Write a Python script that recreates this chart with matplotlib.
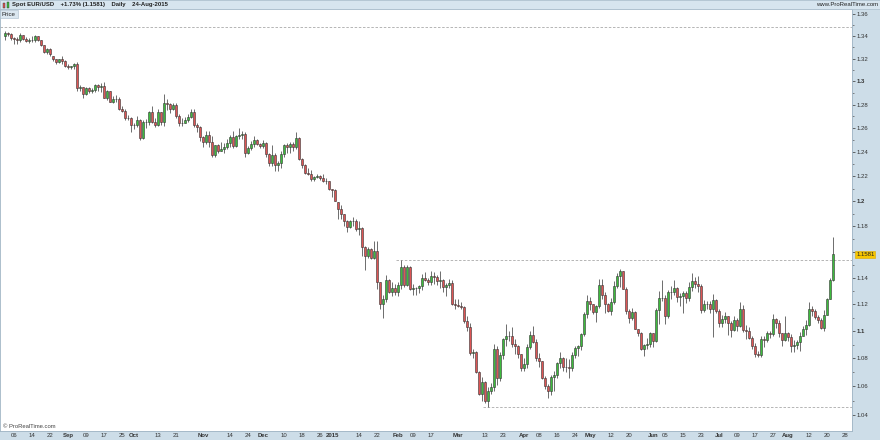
import numpy as np
import pandas as pd
import matplotlib
matplotlib.use("Agg")
import matplotlib.pyplot as plt
from matplotlib.patches import Rectangle

plt.rcParams["font.family"] = ["Liberation Sans", "DejaVu Sans"]

# daily candles: (open, high, low, close)
aug14 = [
    (1.3406, 1.3444, 1.3366, 1.3428), (1.3428, 1.3440, 1.3405, 1.3416), (1.3416, 1.3430, 1.3368, 1.3380),
    (1.3380, 1.3397, 1.3332, 1.3377), (1.3377, 1.3393, 1.3333, 1.3362), (1.3362, 1.3432, 1.3352, 1.3410),
    (1.3410, 1.3415, 1.3370, 1.3377), (1.3377, 1.3393, 1.3350, 1.3361), (1.3361, 1.3380, 1.3337, 1.3365),
    (1.3365, 1.3403, 1.3347, 1.3362), (1.3362, 1.3412, 1.3350, 1.3400), (1.3400, 1.3405, 1.3355, 1.3362),
    (1.3362, 1.3365, 1.3311, 1.3318), (1.3318, 1.3321, 1.3246, 1.3255), (1.3255, 1.3293, 1.3243, 1.3282),
    (1.3282, 1.3291, 1.3222, 1.3240), (1.3220, 1.3225, 1.3176, 1.3193), (1.3193, 1.3196, 1.3151, 1.3169),
    (1.3169, 1.3200, 1.3158, 1.3196), (1.3196, 1.3222, 1.3156, 1.3182), (1.3182, 1.3191, 1.3122, 1.3132),
]
sep14 = [
    (1.3132, 1.3150, 1.3110, 1.3130), (1.3130, 1.3138, 1.3108, 1.3131), (1.3131, 1.3160, 1.3110, 1.3150),
    (1.3150, 1.3170, 1.2920, 1.2944), (1.2944, 1.2965, 1.2920, 1.2950), (1.2950, 1.2955, 1.2860, 1.2893),
    (1.2893, 1.2948, 1.2880, 1.2943), (1.2943, 1.2955, 1.2904, 1.2918), (1.2918, 1.2945, 1.2900, 1.2925),
    (1.2925, 1.2980, 1.2910, 1.2965), (1.2965, 1.2977, 1.2920, 1.2952), (1.2952, 1.2985, 1.2910, 1.2962),
    (1.2962, 1.2995, 1.2858, 1.2861), (1.2861, 1.2925, 1.2838, 1.2919), (1.2919, 1.2921, 1.2823, 1.2826),
    (1.2826, 1.2870, 1.2815, 1.2849), (1.2849, 1.2886, 1.2825, 1.2847), (1.2847, 1.2862, 1.2752, 1.2763),
    (1.2763, 1.2789, 1.2735, 1.2747), (1.2747, 1.2765, 1.2667, 1.2683), (1.2683, 1.2715, 1.2670, 1.2687),
    (1.2687, 1.2692, 1.2571, 1.2628),
]
oct14 = [
    (1.2628, 1.2643, 1.2590, 1.2624), (1.2624, 1.2700, 1.2606, 1.2670), (1.2670, 1.2680, 1.2501, 1.2516),
    (1.2516, 1.2670, 1.2507, 1.2652), (1.2652, 1.2677, 1.2598, 1.2651), (1.2651, 1.2746, 1.2624, 1.2735),
    (1.2735, 1.2791, 1.2640, 1.2654), (1.2654, 1.2686, 1.2610, 1.2628), (1.2628, 1.2760, 1.2618, 1.2735),
    (1.2735, 1.2738, 1.2630, 1.2655), (1.2655, 1.2887, 1.2622, 1.2818), (1.2818, 1.2845, 1.2750, 1.2807),
    (1.2807, 1.2813, 1.2725, 1.2760), (1.2760, 1.2810, 1.2750, 1.2798), (1.2798, 1.2815, 1.2686, 1.2705),
    (1.2705, 1.2718, 1.2615, 1.2642), (1.2642, 1.2684, 1.2616, 1.2647), (1.2647, 1.2691, 1.2640, 1.2667),
    (1.2667, 1.2720, 1.2656, 1.2697), (1.2697, 1.2765, 1.2688, 1.2734), (1.2734, 1.2764, 1.2612, 1.2629),
    (1.2629, 1.2640, 1.2564, 1.2612), (1.2612, 1.2620, 1.2495, 1.2528),
]
nov14 = [
    (1.2528, 1.2534, 1.2443, 1.2483), (1.2483, 1.2577, 1.2465, 1.2546), (1.2546, 1.2572, 1.2439, 1.2487),
    (1.2487, 1.2532, 1.2359, 1.2377), (1.2377, 1.2460, 1.2358, 1.2457), (1.2457, 1.2470, 1.2395, 1.2410),
    (1.2410, 1.2480, 1.2405, 1.2424), (1.2424, 1.2477, 1.2392, 1.2438), (1.2438, 1.2508, 1.2425, 1.2476),
    (1.2476, 1.2544, 1.2443, 1.2526), (1.2526, 1.2576, 1.2432, 1.2450), (1.2450, 1.2545, 1.2443, 1.2535),
    (1.2535, 1.2600, 1.2512, 1.2542), (1.2542, 1.2575, 1.2508, 1.2547), (1.2547, 1.2570, 1.2358, 1.2390),
    (1.2390, 1.2448, 1.2382, 1.2437), (1.2437, 1.2490, 1.2420, 1.2469), (1.2469, 1.2532, 1.2443, 1.2504),
    (1.2504, 1.2510, 1.2455, 1.2466), (1.2466, 1.2473, 1.2435, 1.2453),
]
dec14 = [
    (1.2453, 1.2500, 1.2435, 1.2474), (1.2474, 1.2487, 1.2359, 1.2382), (1.2382, 1.2389, 1.2281, 1.2312),
    (1.2312, 1.2456, 1.2282, 1.2377), (1.2377, 1.2395, 1.2247, 1.2290), (1.2290, 1.2326, 1.2246, 1.2313),
    (1.2313, 1.2410, 1.2270, 1.2380), (1.2380, 1.2465, 1.2359, 1.2456), (1.2456, 1.2475, 1.2392, 1.2438),
    (1.2438, 1.2484, 1.2395, 1.2463), (1.2463, 1.2480, 1.2405, 1.2440), (1.2440, 1.2570, 1.2428, 1.2513),
    (1.2513, 1.2527, 1.2334, 1.2343), (1.2343, 1.2350, 1.2267, 1.2289), (1.2289, 1.2300, 1.2220, 1.2230),
    (1.2230, 1.2270, 1.2209, 1.2223), (1.2223, 1.2250, 1.2166, 1.2178), (1.2178, 1.2200, 1.2165, 1.2191),
    (1.2191, 1.2220, 1.2185, 1.2205), (1.2205, 1.2215, 1.2167, 1.2183), (1.2183, 1.2220, 1.2154, 1.2158),
    (1.2158, 1.2190, 1.2140, 1.2160), (1.2160, 1.2165, 1.2085, 1.2098),
]
jan15 = [
    (1.2098, 1.2100, 1.2030, 1.2090), (1.2090, 1.2095, 1.2000, 1.2002), (1.1990, 1.1990, 1.1860, 1.1933),
    (1.1933, 1.1970, 1.1860, 1.1893), (1.1893, 1.1900, 1.1805, 1.1839), (1.1839, 1.1850, 1.1754, 1.1794),
    (1.1794, 1.1849, 1.1782, 1.1842), (1.1842, 1.1870, 1.1798, 1.1839), (1.1839, 1.1860, 1.1760, 1.1774),
    (1.1774, 1.1837, 1.1729, 1.1787), (1.1787, 1.1795, 1.1567, 1.1633), (1.1633, 1.1643, 1.1460, 1.1564),
    (1.1564, 1.1640, 1.1550, 1.1620), (1.1620, 1.1625, 1.1540, 1.1550), (1.1550, 1.1680, 1.1540, 1.1605),
    (1.1605, 1.1680, 1.1316, 1.1365), (1.1365, 1.1370, 1.1160, 1.1204), (1.1204, 1.1270, 1.1098, 1.1236),
    (1.1236, 1.1423, 1.1215, 1.1382), (1.1382, 1.1387, 1.1280, 1.1290), (1.1290, 1.1367, 1.1262, 1.1319),
    (1.1319, 1.1352, 1.1270, 1.1290),
]
feb15 = [
    (1.1290, 1.1365, 1.1262, 1.1341), (1.1341, 1.1534, 1.1315, 1.1478), (1.1478, 1.1496, 1.1332, 1.1345),
    (1.1345, 1.1498, 1.1338, 1.1478), (1.1478, 1.1487, 1.1310, 1.1315), (1.1315, 1.1350, 1.1270, 1.1322),
    (1.1322, 1.1330, 1.1270, 1.1321), (1.1321, 1.1345, 1.1280, 1.1333), (1.1333, 1.1430, 1.1310, 1.1396),
    (1.1396, 1.1447, 1.1375, 1.1386), (1.1386, 1.1400, 1.1345, 1.1369), (1.1369, 1.1450, 1.1342, 1.1409),
    (1.1409, 1.1440, 1.1355, 1.1405), (1.1405, 1.1420, 1.1345, 1.1373), (1.1373, 1.1450, 1.1318, 1.1382),
    (1.1382, 1.1390, 1.1288, 1.1332), (1.1332, 1.1360, 1.1261, 1.1343), (1.1343, 1.1387, 1.1324, 1.1359),
    (1.1359, 1.1383, 1.1193, 1.1198), (1.1198, 1.1242, 1.1160, 1.1196),
]
mar15 = [
    (1.1196, 1.1240, 1.1176, 1.1184), (1.1184, 1.1216, 1.1160, 1.1175), (1.1175, 1.1188, 1.1060, 1.1073),
    (1.1073, 1.1114, 1.1000, 1.1030), (1.1030, 1.1060, 1.0822, 1.0842), (1.0842, 1.0867, 1.0800, 1.0848),
    (1.0848, 1.0852, 1.0694, 1.0700), (1.0700, 1.0710, 1.0537, 1.0547), (1.0547, 1.0666, 1.0494, 1.0631),
    (1.0631, 1.0640, 1.0485, 1.0495), (1.0495, 1.0592, 1.0458, 1.0565), (1.0565, 1.0623, 1.0544, 1.0597),
    (1.0597, 1.0906, 1.0570, 1.0870), (1.0870, 1.0890, 1.0612, 1.0656), (1.0656, 1.0845, 1.0640, 1.0822),
    (1.0822, 1.0950, 1.0795, 1.0941), (1.0941, 1.1051, 1.0890, 1.0964), (1.0964, 1.1000, 1.0930, 1.0965),
    (1.0965, 1.1028, 1.0885, 1.0905), (1.0905, 1.0941, 1.0830, 1.0887), (1.0887, 1.0894, 1.0800, 1.0829),
    (1.0829, 1.0832, 1.0712, 1.0731),
]
apr15 = [
    (1.0731, 1.0803, 1.0713, 1.0763), (1.0763, 1.0908, 1.0730, 1.0885), (1.0885, 1.1000, 1.0865, 1.0969),
    (1.0969, 1.1035, 1.0910, 1.0922), (1.0922, 1.0939, 1.0785, 1.0804), (1.0804, 1.0840, 1.0740, 1.0780),
    (1.0780, 1.0785, 1.0650, 1.0660), (1.0660, 1.0674, 1.0580, 1.0600), (1.0600, 1.0620, 1.0520, 1.0570),
    (1.0570, 1.0684, 1.0541, 1.0664), (1.0664, 1.0709, 1.0570, 1.0680), (1.0680, 1.0777, 1.0660, 1.0767),
    (1.0767, 1.0849, 1.0730, 1.0806), (1.0806, 1.0810, 1.0713, 1.0740), (1.0740, 1.0800, 1.0700, 1.0736),
    (1.0736, 1.0795, 1.0662, 1.0728), (1.0728, 1.0848, 1.0707, 1.0828), (1.0828, 1.0888, 1.0801, 1.0875),
    (1.0875, 1.0900, 1.0817, 1.0888), (1.0888, 1.0987, 1.0863, 1.0975), (1.0975, 1.1141, 1.0960, 1.1127),
    (1.1127, 1.1268, 1.1095, 1.1221),
]
may15 = [
    (1.1221, 1.1250, 1.1155, 1.1198), (1.1198, 1.1202, 1.1124, 1.1144), (1.1144, 1.1191, 1.1064, 1.1188),
    (1.1188, 1.1392, 1.1171, 1.1347), (1.1347, 1.1391, 1.1236, 1.1265), (1.1265, 1.1288, 1.1137, 1.1201),
    (1.1201, 1.1205, 1.1140, 1.1150), (1.1150, 1.1246, 1.1120, 1.1214), (1.1214, 1.1373, 1.1201, 1.1338),
    (1.1338, 1.1435, 1.1320, 1.1410), (1.1410, 1.1467, 1.1330, 1.1448), (1.1448, 1.1452, 1.1312, 1.1316),
    (1.1316, 1.1330, 1.1128, 1.1145), (1.1145, 1.1164, 1.1062, 1.1093), (1.1093, 1.1173, 1.1082, 1.1140),
    (1.1140, 1.1148, 1.1012, 1.1016), (1.1016, 1.1018, 1.0962, 1.0984), (1.0984, 1.0995, 1.0863, 1.0871),
    (1.0871, 1.0905, 1.0819, 1.0895), (1.0895, 1.0946, 1.0872, 1.0904), (1.0904, 1.0991, 1.0881, 1.0986),
]
jun15 = [
    (1.0986, 1.0988, 1.0886, 1.0928), (1.0928, 1.1168, 1.0920, 1.1154), (1.1154, 1.1299, 1.1051, 1.1248),
    (1.1248, 1.1380, 1.1222, 1.1243), (1.1243, 1.1265, 1.1050, 1.1114), (1.1114, 1.1307, 1.1100, 1.1290),
    (1.1290, 1.1334, 1.1235, 1.1291), (1.1291, 1.1386, 1.1265, 1.1319), (1.1319, 1.1332, 1.1217, 1.1253),
    (1.1253, 1.1285, 1.1188, 1.1263), (1.1263, 1.1297, 1.1135, 1.1281), (1.1281, 1.1296, 1.1206, 1.1243),
    (1.1243, 1.1365, 1.1226, 1.1332), (1.1332, 1.1436, 1.1300, 1.1372), (1.1372, 1.1403, 1.1325, 1.1348),
    (1.1348, 1.1410, 1.1290, 1.1340), (1.1340, 1.1350, 1.1135, 1.1159), (1.1159, 1.1229, 1.1141, 1.1202),
    (1.1202, 1.1225, 1.1167, 1.1204), (1.1204, 1.1222, 1.1135, 1.1166), (1.1166, 1.1278, 1.0955, 1.1234),
    (1.1234, 1.1240, 1.1133, 1.1148),
]
jul15 = [
    (1.1148, 1.1160, 1.1033, 1.1056), (1.1056, 1.1120, 1.1028, 1.1090), (1.1090, 1.1140, 1.1060, 1.1110),
    (1.1110, 1.1114, 1.0969, 1.1057), (1.1057, 1.1075, 1.0955, 1.1009), (1.1009, 1.1108, 1.1000, 1.1084),
    (1.1084, 1.1096, 1.1000, 1.1037), (1.1037, 1.1216, 1.1030, 1.1164), (1.1164, 1.1190, 1.0990, 1.1004),
    (1.1004, 1.1048, 1.0940, 1.1003), (1.1003, 1.1030, 1.0940, 1.0951), (1.0951, 1.0967, 1.0865, 1.0887),
    (1.0887, 1.0911, 1.0807, 1.0829), (1.0829, 1.0855, 1.0808, 1.0823), (1.0823, 1.0960, 1.0813, 1.0940),
    (1.0940, 1.0960, 1.0885, 1.0932), (1.0932, 1.0997, 1.0920, 1.0985), (1.0985, 1.0998, 1.0951, 1.0981),
    (1.0981, 1.1128, 1.0966, 1.1088), (1.1088, 1.1093, 1.1023, 1.1062), (1.1062, 1.1078, 1.0959, 1.0986),
    (1.0986, 1.0988, 1.0887, 1.0932), (1.0932, 1.1114, 1.0928, 1.0985),
]
aug15 = [
    (1.0985, 1.0990, 1.0925, 1.0954), (1.0954, 1.0975, 1.0847, 1.0887), (1.0887, 1.0935, 1.0848, 1.0901),
    (1.0901, 1.0933, 1.0872, 1.0921), (1.0921, 1.0996, 1.0855, 1.0967), (1.0967, 1.1035, 1.0962, 1.1018),
    (1.1018, 1.1083, 1.0970, 1.1047), (1.1047, 1.1214, 1.1040, 1.1161), (1.1161, 1.1188, 1.1109, 1.1147),
    (1.1147, 1.1166, 1.1087, 1.1106), (1.1106, 1.1115, 1.1057, 1.1080), (1.1080, 1.1093, 1.1016, 1.1025),
    (1.1025, 1.1158, 1.1000, 1.1120), (1.1120, 1.1247, 1.1115, 1.1242), (1.1242, 1.1395, 1.1238, 1.1386),
    (1.1386, 1.1714, 1.1375, 1.1581),
]

first_day = "2014-08-01"
last_day = "2015-08-24"

# 수평선 (level, start date)
top_line = (1.3483, "2014-08-01")
res_line = (1.1534, "2015-02-03")
sup_line = (1.0458, "2015-03-16")
last_price = 1.1581

tick_dates = ["2014-08-06", "2014-08-14", "2014-08-22", "2014-09-01", "2014-09-09", "2014-09-17",
              "2014-09-25", "2014-10-01", "2014-10-13", "2014-10-21", "2014-11-03", "2014-11-14",
              "2014-11-24", "2014-12-01", "2014-12-10", "2014-12-18", "2014-12-26", "2015-01-01",
              "2015-01-14", "2015-01-22", "2015-02-02", "2015-02-09", "2015-02-17", "2015-03-02",
              "2015-03-13", "2015-03-23", "2015-04-01", "2015-04-08", "2015-04-16", "2015-04-24",
              "2015-05-01", "2015-05-12", "2015-05-20", "2015-06-01", "2015-06-05", "2015-06-15",
              "2015-06-23", "2015-07-01", "2015-07-09", "2015-07-17", "2015-07-27", "2015-08-03",
              "2015-08-12", "2015-08-20", "2015-08-28"]
tick_labels = ["06", "14", "22", "Sep", "09", "17", "25", "Oct", "13", "21", "Nov", "14", "24", "Dec",
               "10", "18", "26", "2015", "14", "22", "Feb", "09", "17", "Mar", "13", "23", "Apr", "08",
               "16", "24", "May", "12", "20", "Jun", "05", "15", "23", "Jul", "09", "17", "27", "Aug",
               "12", "20", "28"]
month_labels = ["Sep", "Oct", "Nov", "Dec", "2015", "Feb", "Mar", "Apr", "May", "Jun", "Jul", "Aug"]

# 1.16 은 현재가 박스에 가려져 있음
price_ticks = [1.04, 1.06, 1.08, 1.10, 1.12, 1.14, 1.16, 1.18, 1.20, 1.22, 1.24, 1.26, 1.28, 1.30,
               1.32, 1.34, 1.36]
price_labels = ["1.04", "1.06", "1.08", "1.1", "1.12", "1.14", "", "1.18", "1.2", "1.22", "1.24",
                "1.26", "1.28", "1.3", "1.32", "1.34", "1.36"]
minor_ticks = [1.05, 1.07, 1.09, 1.11, 1.13, 1.15, 1.17, 1.19, 1.21, 1.23, 1.25, 1.27, 1.29, 1.31,
               1.33, 1.35]

up_color = "#3dbb3d"
down_color = "#dd5555"
strip_color = "#cddde8"

df = pd.DataFrame(aug14 + sep14 + oct14 + nov14 + dec14 + jan15 + feb15 + mar15 + apr15
                  + may15 + jun15 + jul15 + aug15, columns=["Open", "High", "Low", "Close"])
dates = pd.bdate_range(first_day, "2015-09-30")
df.index = dates[:len(df)]
pos = {d: i for i, d in enumerate(dates)}

fig = plt.figure(figsize=(8.8, 4.4), dpi=100)
fig.patch.set_facecolor(strip_color)
ax = fig.add_axes([0, 9 / 440, 852 / 880, 422 / 440])
ax.set_facecolor("white")

x = np.arange(len(df))
up = df["Close"] >= df["Open"]
ax.vlines(x, df["Low"], df["High"], color="#555555", linewidth=0.6, zorder=2)
colors = np.where(up, up_color, down_color)
ax.bar(x, df["Close"] - df["Open"], bottom=df["Open"], width=0.72, color=colors,
       edgecolor="#333333", linewidth=0.4, zorder=3)

# 점선 레벨
for level, start in [top_line, res_line, sup_line]:
    ax.hlines(level, pos[pd.Timestamp(start)] - 1.7, 290, colors="#aaaaaa", linestyles=(0, (3, 2)),
              linewidth=0.6, zorder=1)

ax.set_yscale("log")
ax.set_ylim(1.0288, 1.3646)
ax.set_xlim(-1.67, 282.3)

ax.yaxis.tick_right()
ax.set_yticks(price_ticks)
ax.set_yticklabels(price_labels)
ax.set_yticks(minor_ticks, minor=True)
ax.yaxis.set_minor_formatter(plt.NullFormatter())
ax.tick_params(axis="y", which="major", length=2, width=0.5, pad=1, labelsize=4.3,
               colors="#333333")
ax.tick_params(axis="y", which="minor", length=1.5, width=0.5, colors="#555555")
for lab in ax.get_yticklabels():
    if lab.get_text() in ("1.1", "1.2", "1.3"):
        lab.set_fontweight("bold")

ax.set_xticks([pos[pd.Timestamp(d)] for d in tick_dates])
ax.set_xticklabels(tick_labels)
ax.tick_params(axis="x", length=0, pad=1.6, labelsize=4.3, colors="#333333")
for lab in ax.get_xticklabels():
    if lab.get_text() in month_labels:
        lab.set_fontweight("bold")

for s in ax.spines.values():
    s.set_color("#9fb4c4")
    s.set_linewidth(0.6)

# 현재가 박스
ax.annotate("%.4f" % last_price, xy=(1.0, last_price), xycoords=("axes fraction", "data"),
            xytext=(3, 0), textcoords="offset points", ha="left", va="center", fontsize=4.3,
            color="#222222", bbox=dict(boxstyle="square,pad=0.15", fc="#f7c600", ec="#d9a800", lw=0.4),
            zorder=5, annotation_clip=False)

ax.text(0.003, 0.004, "© ProRealTime.com", transform=ax.transAxes, fontsize=4.2, color="#444444",
        ha="left", va="bottom")

# 상단 헤더
fig.patches.append(Rectangle((0, 1 - 9 / 440), 1, 9 / 440, transform=fig.transFigure,
                             fc="#d7e5ef", ec="#a9bccb", lw=0.5, zorder=0))
fig.patches.append(Rectangle((3 / 880, 1 - 8 / 440), 2 / 880, 5 / 440, transform=fig.transFigure,
                             fc=down_color, ec="#333333", lw=0.3))
fig.patches.append(Rectangle((7 / 880, 1 - 8 / 440), 2 / 880, 6 / 440, transform=fig.transFigure,
                             fc=up_color, ec="#333333", lw=0.3))
fig.text(12 / 880, 1 - 4.5 / 440, "Spot EUR/USD    +1.73% (1.1581)    Daily    24-Aug-2015",
         fontsize=4.3, fontweight="bold", color="#222222", ha="left", va="center")
fig.text(878 / 880, 1 - 4.5 / 440, "www.ProRealTime.com", fontsize=4.3, color="#222222",
         ha="right", va="center")
fig.text(2 / 880, 1 - 14 / 440, "Price", fontsize=4.4, color="#222222", ha="left", va="center",
         bbox=dict(boxstyle="square,pad=0.3", fc="#dbe7f0", ec="#a9bccb", lw=0.4))

fig.savefig("out.png", dpi=100, facecolor=fig.get_facecolor())
